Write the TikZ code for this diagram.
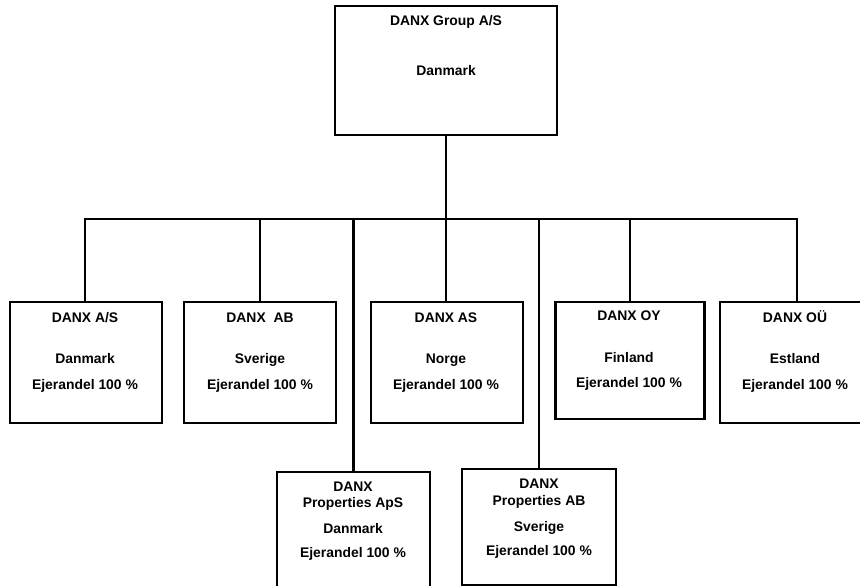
\documentclass[tikz,border=0pt]{standalone}
\usepackage{fontspec}
\setmainfont{Liberation Sans}
\begin{document}
\begin{tikzpicture}[x=1pt,y=-1pt,
  box/.style={draw=black, line width=2.5pt, fill=white, rectangle, inner sep=0pt, outer sep=0pt},
  lbl/.style={font=\fontsize{13.9}{15}\selectfont\bfseries, inner sep=0pt, anchor=base},
  conn/.style={draw=black, line width=2.3pt}]
\useasboundingbox (0,0) rectangle (860,586);
\clip (0,0) rectangle (860,586);
\fill[white] (0,0) rectangle (860,586);
% boxes
\node[box, minimum width=222pt, minimum height=129pt] (top) at (446,70.5) {};
\node[box, minimum width=152pt, minimum height=121pt] (b1) at (86,362.5) {};
\node[box, minimum width=152pt, minimum height=121pt] (b2) at (260,362.5) {};
\node[box, minimum width=152pt, minimum height=121pt] (b3) at (447,362.5) {};
\node[box, minimum width=149pt, minimum height=117pt] (b4) at (630,360.5) {};
\node[box, minimum width=154pt, minimum height=121pt] (b5) at (797,362.5) {};
\node[box, minimum width=153pt, minimum height=130pt] (p1) at (353.5,537) {};
\node[box, minimum width=154pt, minimum height=116pt] (p2) at (539,527) {};
% connectors
\coordinate (bus) at (446,219);
\coordinate (busL) at (85,219);
\coordinate (busR) at (797,219);
\draw[conn] (top.south -| bus) -- (bus);
\draw[conn, line cap=rect] (busL) -- (busR);
\draw[conn] (busL) -- (busL |- b1.north);
\draw[conn] (b2.north |- bus) -- (b2.north);
\draw[conn] (bus) -- (bus |- b3.north);
\draw[conn] (b4.north |- bus) -- (b4.north);
\draw[conn] (busR) -- (busR |- b5.north);
\draw[conn] (p1.north |- bus) -- (p1.north);
\draw[conn] (p2.north |- bus) -- (p2.north);
% texts
\node[lbl] (t0a) at (446,26) {DANX Group A/S};
\node[lbl] (t0b) at (446,76) {Danmark};
\node[lbl] (t1a) at (85,322) {DANX A/S};
\node[lbl] (t1b) at (85,363) {Danmark};
\node[lbl] (t1c) at (85,389) {Ejerandel 100 \%};
\node[lbl] (t2a) at (260,322) {DANX\ \ AB};
\node[lbl] (t2b) at (260,363) {Sverige};
\node[lbl] (t2c) at (260,389) {Ejerandel 100 \%};
\node[lbl] (t3a) at (446,322) {DANX AS};
\node[lbl] (t3b) at (446,363) {Norge};
\node[lbl] (t3c) at (446,389) {Ejerandel 100 \%};
\node[lbl] (t4a) at (629,320) {DANX OY};
\node[lbl] (t4b) at (629,362) {Finland};
\node[lbl] (t4c) at (629,387) {Ejerandel 100 \%};
\node[lbl] (t5a) at (795,322) {DANX OÜ};
\node[lbl] (t5b) at (795,363) {Estland};
\node[lbl] (t5c) at (795,389) {Ejerandel 100 \%};
\node[lbl] (p1a) at (353,491) {DANX};
\node[lbl] (p1b) at (353,507) {Properties ApS};
\node[lbl] (p1c) at (353,533) {Danmark};
\node[lbl] (p1d) at (353,557) {Ejerandel 100 \%};
\node[lbl] (p2a) at (539,488) {DANX};
\node[lbl] (p2b) at (539,505) {Properties AB};
\node[lbl] (p2c) at (539,531) {Sverige};
\node[lbl] (p2d) at (539,555) {Ejerandel 100 \%};
\end{tikzpicture}
\end{document}
